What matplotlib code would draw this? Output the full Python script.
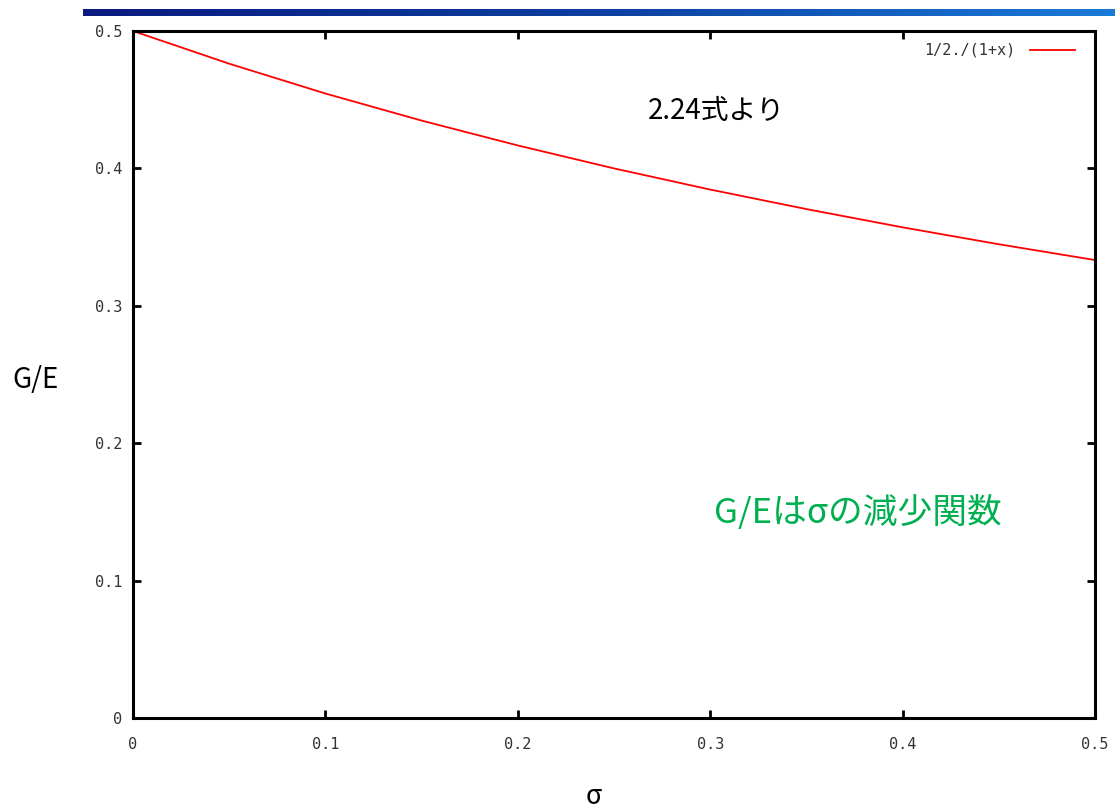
import matplotlib
matplotlib.use("Agg")
import matplotlib.pyplot as plt
from matplotlib.colors import LinearSegmentedColormap
import numpy as np

# sampled values of G/E against sigma
sigma = [0.00, 0.05, 0.10, 0.15, 0.20, 0.25, 0.30, 0.35, 0.40, 0.45, 0.50]
ge = [0.5000, 0.4762, 0.4545, 0.4348, 0.4167, 0.4000, 0.3846, 0.3704, 0.3571, 0.3448, 0.3333]
xticks = [0, 0.1, 0.2, 0.3, 0.4, 0.5]
xticklabels = ["0", "0.1", "0.2", "0.3", "0.4", "0.5"]
yticks = [0, 0.1, 0.2, 0.3, 0.4, 0.5]
yticklabels = ["0", "0.1", "0.2", "0.3", "0.4", "0.5"]
legend_label = "1/2./(1+x)"

cjk = ["Noto Sans CJK JP", "DejaVu Sans"]
mono = ["DejaVu Sans Mono"]

fig = plt.figure(figsize=(11.15, 8.09), dpi=100)

# title-bar strip along the top
bar = fig.add_axes([83 / 1115, 1 - 16 / 809, 1 - 83 / 1115, 7 / 809])
grad = np.linspace(0, 1, 256).reshape(1, -1)
cm = LinearSegmentedColormap.from_list("tb", ["#0a1a80", "#0c3fa0", "#1a7ad8"])
bar.imshow(grad, aspect="auto", cmap=cm, extent=[0, 1, 0, 1])
bar.set_axis_off()

ax = fig.add_axes([133 / 1115, 1 - 718 / 809, (1095 - 133) / 1115, (718 - 31) / 809])
ax.plot(sigma, ge, color="#ff0000", lw=1.3, label=legend_label)
ax.set_xlim(0, 0.5)
ax.set_ylim(0, 0.5)
ax.set_xticks(xticks)
ax.set_xticklabels(xticklabels, fontfamily=mono, fontsize=11, color="#333333")
ax.set_yticks(yticks)
ax.set_yticklabels(yticklabels, fontfamily=mono, fontsize=11, color="#333333")
ax.tick_params(direction="in", length=6, width=2, top=True, right=True)
ax.tick_params(axis="x", pad=14)
ax.tick_params(axis="y", pad=8)
for s in ax.spines.values():
    s.set_linewidth(2.2)

# legend entry in the top-right corner
ax.text(0.4584, 0.4862, legend_label, fontfamily=mono, fontsize=11, color="#333333",
        ha="right", va="center")
ax.plot([0.4662, 0.4896], [0.4862, 0.4862], color="#ff0000", lw=1.3)

ax.text(0.303, 0.4415, "2.24式より", fontfamily=cjk, fontsize=20, color="black",
        ha="center", va="center")
ax.text(0.3765, 0.1492, "G/Eはσの減少関数", fontfamily=cjk, fontsize=25,
        color="#00b050", ha="center", va="center")

fig.text(35 / 1115, 1 - 380 / 809, "G/E", fontfamily=cjk, fontsize=20,
         ha="center", va="center")
fig.text(594 / 1115, 1 - 804 / 809, "σ", fontfamily=cjk, fontsize=19,
         ha="center", va="baseline")

fig.savefig("out.png", dpi=100)
